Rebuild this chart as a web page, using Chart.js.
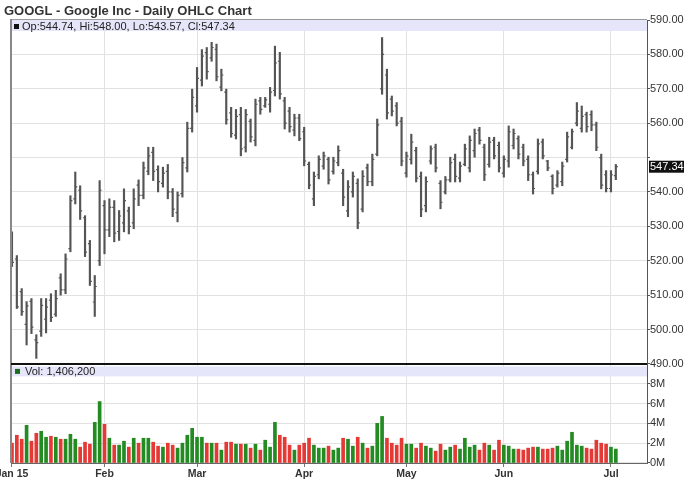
<!DOCTYPE html>
<html lang="en">
<head>
  <meta charset="UTF-8">
  <title>GOOGL - Daily OHLC Chart</title>
  <script src="https://cdn.jsdelivr.net/npm/chart.js"></script>
  <style>
    html, body { margin: 0; padding: 0; background: #ffffff; }
    #ohlcChart { display: block; }
  </style>
</head>
<body>
<canvas id="ohlcChart" width="688" height="503"></canvas>

<script>
  // trading days, Jan 5 - Jul 2 2015
  const tradingDays = {
    Jan: [5, 6, 7, 8, 9, 12, 13, 14, 15, 16, 20, 21, 22, 23, 26, 27, 28, 29, 30],
    Feb: [2, 3, 4, 5, 6, 9, 10, 11, 12, 13, 17, 18, 19, 20, 23, 24, 25, 26, 27],
    Mar: [2, 3, 4, 5, 6, 9, 10, 11, 12, 13, 16, 17, 18, 19, 20, 23, 24, 25, 26, 27, 30, 31],
    Apr: [1, 2, 6, 7, 8, 9, 10, 13, 14, 15, 16, 17, 20, 21, 22, 23, 24, 27, 28, 29, 30],
    May: [1, 4, 5, 6, 7, 8, 11, 12, 13, 14, 15, 18, 19, 20, 21, 22, 26, 27, 28, 29],
    Jun: [1, 2, 3, 4, 5, 8, 9, 10, 11, 12, 15, 16, 17, 18, 19, 22, 23, 24, 25, 26, 29, 30],
    Jul: [1, 2]
  };
  const monthLabels = ['Jan 15', 'Feb', 'Mar', 'Apr', 'May', 'Jun', 'Jul'];

  const openPrices = [
    527.2, 520.5, 511.0, 501.5, 508.2, 497.0, 499.5, 503.0, 508.5, 504.5,
    515.0, 511.5, 523.5, 538.0, 540.5, 532.5, 525.0, 508.0, 520.0, 536.0,
    529.0, 535.5, 528.5, 531.0, 534.5, 531.0, 542.0, 539.0, 546.0, 551.5,
    546.5, 542.5, 546.0, 540.0, 534.0, 539.5, 547.0, 558.5, 565.0, 572.5,
    580.5, 579.0, 581.5, 570.5, 569.0, 563.0, 556.5, 562.5, 553.0, 560.5,
    555.0, 566.5, 565.0, 565.5, 569.5, 578.0, 566.5, 563.5, 558.0, 561.5,
    557.5, 548.0, 538.0, 545.0, 547.5, 549.5, 546.0, 548.5, 545.5, 534.5,
    540.0, 542.5, 535.0, 547.0, 543.0, 551.0, 570.0, 574.0, 567.0, 565.0,
    560.5, 545.5, 549.5, 552.0, 544.5, 536.0, 549.0, 553.0, 542.5, 540.0,
    543.5, 549.5, 544.0, 548.0, 547.0, 552.0, 558.0, 553.0, 548.0, 555.0,
    553.5, 545.5, 549.0, 553.5, 555.5, 553.0, 549.5, 545.0, 546.0, 554.5,
    549.0, 544.5, 542.0, 543.0, 549.5, 553.0, 560.0, 558.5, 562.5, 562.5,
    559.5, 550.0, 545.0, 541.0, 544.74
  ];
  const highPrices = [
    528.4, 521.5, 511.9, 508.1, 509.0, 498.5, 509.0, 509.0, 510.4, 511.4,
    516.2, 522.0, 538.9, 545.8, 541.8, 533.1, 525.9, 515.7, 543.3, 537.5,
    538.0, 537.5, 534.6, 540.9, 535.6, 540.9, 543.5, 548.7, 553.0, 553.0,
    547.6, 547.2, 548.0, 541.0, 540.0, 550.0, 560.3, 569.9, 576.2, 581.4,
    582.0, 583.5, 583.0, 575.7, 569.9, 564.6, 564.0, 564.6, 564.0, 561.2,
    567.0, 567.5, 567.5, 570.4, 582.4, 580.6, 567.5, 564.6, 562.6, 562.6,
    558.8, 548.7, 545.8, 550.5, 551.6, 550.1, 550.1, 553.4, 546.6, 543.3,
    545.8, 543.8, 546.2, 548.1, 551.0, 561.2, 584.9, 575.7, 567.9, 566.0,
    561.7, 551.6, 556.8, 553.0, 545.8, 544.4, 553.4, 553.9, 543.3, 544.5,
    550.1, 551.0, 548.7, 553.9, 556.3, 558.3, 558.8, 553.9, 555.9, 555.9,
    554.5, 550.5, 559.2, 558.3, 556.3, 553.9, 550.5, 545.8, 555.4, 555.4,
    549.2, 545.0, 546.2, 548.7, 557.4, 558.3, 566.0, 565.0, 563.2, 563.6,
    560.3, 551.0, 546.2, 546.2, 548.00
  ];
  const lowPrices = [
    518.3, 506.1, 504.1, 495.5, 498.8, 491.6, 498.0, 499.0, 502.3, 503.8,
    510.0, 510.4, 522.6, 536.5, 532.0, 521.2, 512.8, 503.8, 518.6, 522.0,
    527.0, 525.5, 525.9, 528.4, 527.8, 529.3, 536.0, 538.0, 545.0, 543.3,
    540.0, 541.4, 538.0, 532.8, 531.3, 538.5, 545.8, 557.4, 563.2, 570.8,
    572.8, 578.0, 572.3, 569.4, 559.7, 555.9, 555.4, 550.5, 551.6, 554.5,
    553.4, 562.6, 564.6, 563.2, 567.9, 567.0, 558.3, 557.4, 556.3, 554.9,
    547.6, 540.9, 536.0, 543.8, 546.6, 542.3, 545.2, 547.6, 536.0, 532.8,
    538.5, 529.3, 534.2, 541.8, 541.8, 550.5, 568.4, 561.2, 562.1, 559.2,
    547.6, 544.3, 548.1, 542.9, 532.8, 534.2, 548.1, 545.8, 535.1, 539.4,
    542.9, 542.9, 542.9, 547.6, 545.8, 550.1, 553.9, 543.3, 547.2, 549.6,
    545.8, 544.3, 547.2, 552.5, 549.6, 547.6, 543.3, 539.4, 545.2, 549.6,
    546.2, 539.4, 541.4, 541.8, 548.7, 552.5, 559.2, 557.4, 557.4, 557.8,
    552.0, 540.9, 540.0, 540.0, 543.57
  ];
  const closePrices = [
    519.5, 506.6, 505.2, 506.9, 500.7, 496.2, 507.0, 506.5, 503.5, 509.0,
    511.5, 520.5, 537.5, 541.5, 534.5, 522.5, 514.0, 512.5, 540.5, 529.0,
    535.5, 528.0, 533.0, 537.5, 530.0, 538.0, 539.0, 547.0, 550.5, 546.0,
    543.0, 545.5, 540.0, 535.0, 539.0, 548.5, 558.5, 567.5, 573.0, 579.5,
    575.0, 582.0, 573.5, 574.0, 561.0, 557.0, 562.0, 552.5, 562.5, 556.0,
    565.5, 564.0, 566.8, 569.0, 577.5, 568.5, 560.0, 559.0, 561.5, 555.5,
    549.0, 542.0, 544.5, 549.5, 550.5, 543.5, 549.0, 552.0, 538.5, 541.5,
    544.5, 531.0, 544.5, 543.0, 549.5, 559.5, 580.0, 563.0, 563.5, 560.0,
    549.0, 550.5, 554.5, 544.0, 535.0, 543.0, 552.5, 547.0, 537.0, 543.5,
    548.5, 544.5, 547.5, 552.5, 555.0, 557.0, 555.0, 545.0, 554.5, 550.5,
    547.0, 549.5, 557.5, 557.0, 551.0, 549.0, 545.0, 541.0, 554.0, 550.5,
    547.0, 541.0, 545.5, 547.5, 556.0, 557.5, 563.5, 562.0, 559.0, 559.5,
    553.0, 542.0, 541.0, 545.0, 547.34
  ];
  // volume in millions of shares
  const volumeM = [
    2.0, 2.8, 2.4, 3.8, 2.2, 3.0, 3.2, 2.6, 2.7, 2.6,
    2.4, 2.4, 2.9, 2.4, 1.6, 2.1, 1.9, 4.1, 6.2, 3.9,
    2.5, 1.8, 1.8, 2.2, 1.6, 2.5, 2.0, 2.5, 2.5, 2.1,
    1.7, 1.6, 2.0, 1.8, 1.5, 2.0, 2.8, 3.5, 2.6, 2.6,
    2.0, 2.0, 2.0, 1.3, 2.1, 2.1, 1.9, 1.9, 1.9, 1.5,
    1.9, 1.3, 2.3, 1.6, 4.1, 2.8, 2.6, 1.8, 1.3, 1.8,
    2.0, 2.5, 1.8, 1.5, 1.5, 1.7, 1.3, 1.5, 2.5, 2.4,
    1.7, 2.6, 2.0, 1.5, 1.7, 4.0, 4.7, 2.5, 2.0, 1.8,
    2.5, 1.9, 1.9, 1.5, 2.0, 1.7, 1.5, 1.2, 1.9, 1.3,
    1.6, 1.8, 1.4, 2.5, 1.6, 1.8, 1.3, 2.0, 1.8, 1.3,
    2.3, 1.8, 1.7, 1.4, 1.4, 1.3, 1.5, 1.6, 1.6, 1.4,
    1.4, 1.5, 1.7, 1.3, 2.2, 3.1, 1.8, 1.7, 1.5, 1.4,
    2.3, 2.0, 1.9, 1.6, 1.4062
  ];

  // first trading day of each month -> tick position
  const monthStarts = [];
  let dayCount = 0;
  Object.values(tradingDays).forEach(days => {
    monthStarts.push(dayCount);
    dayCount += days.length;
  });
  const labelAt = {};
  monthStarts.forEach((v, i) => { labelAt[v] = monthLabels[i]; });

  const last = closePrices.length - 1;
  const UP = '#228b22', DOWN = '#e53935', BAR = '#555555', BAND = '#e6e6fa';
  const FONT = "'Liberation Sans', Arial, sans-serif";
  Chart.defaults.font.family = FONT;

  // open tick to the left, close tick to the right
  const ohlcTicks = {
    id: 'ohlcTicks',
    afterDatasetsDraw(chart) {
      const ctx = chart.ctx;
      const y = chart.scales.y;
      const meta = chart.getDatasetMeta(0);
      ctx.save();
      ctx.strokeStyle = BAR;
      ctx.lineWidth = 1.2;
      ctx.beginPath();
      meta.data.forEach((bar, i) => {
        const yo = y.getPixelForValue(openPrices[i]);
        const yc = y.getPixelForValue(closePrices[i]);
        ctx.moveTo(bar.x - 2, yo); ctx.lineTo(bar.x, yo);
        ctx.moveTo(bar.x, yc); ctx.lineTo(bar.x + 2, yc);
      });
      ctx.stroke();
      ctx.restore();
    }
  };

  // pane bands, borders, legend lines, title, last price tag
  const panes = {
    id: 'panes',
    beforeDatasetsDraw(chart) {
      const { ctx, chartArea: a, scales: { y, vol } } = chart;
      ctx.save();
      ctx.fillStyle = BAND;
      ctx.fillRect(a.left, y.top - 1, a.right - a.left, 12);
      ctx.fillRect(a.left, vol.top + 2.5, a.right - a.left, 10);
      ctx.restore();
    },
    afterDraw(chart) {
      const { ctx, chartArea: a, scales: { y, vol } } = chart;
      ctx.save();
      // borders
      ctx.strokeStyle = '#999';
      ctx.lineWidth = 1;
      ctx.beginPath();
      ctx.moveTo(a.left, y.top - 0.5); ctx.lineTo(a.right, y.top - 0.5);
      ctx.stroke();
      ctx.strokeStyle = '#888';
      ctx.lineWidth = 2;
      ctx.beginPath();
      ctx.moveTo(a.left, y.top - 1); ctx.lineTo(a.left, a.bottom);
      ctx.stroke();
      ctx.strokeStyle = '#111';
      ctx.lineWidth = 2;
      ctx.beginPath();
      ctx.moveTo(a.left, y.bottom); ctx.lineTo(a.right, y.bottom);
      ctx.stroke();

      // legends
      ctx.font = '11px ' + FONT;
      ctx.textBaseline = 'alphabetic';
      ctx.fillStyle = '#111';
      ctx.fillRect(14, y.top + 4, 5, 5);
      ctx.fillStyle = '#222';
      ctx.fillText('Op:' + openPrices[last].toFixed(2) + ', Hi:' + highPrices[last].toFixed(2) +
        ', Lo:' + lowPrices[last].toFixed(2) + ', Cl:' + closePrices[last].toFixed(2), 22, y.top + 9.5);
      ctx.fillStyle = '#1a6e1a';
      ctx.fillRect(15, vol.top + 5, 5, 5);
      ctx.fillStyle = '#222';
      ctx.fillText('Vol: ' + Math.round(volumeM[last] * 1e6).toLocaleString('en-US'), 25, vol.top + 11);

      // title
      ctx.font = 'bold 13px ' + FONT;
      ctx.fillStyle = '#333';
      ctx.fillText('GOOGL - Google Inc - Daily OHLC Chart', 4, 15);

      // last price tag
      const py = y.getPixelForValue(closePrices[last]);
      ctx.fillStyle = '#111';
      ctx.fillRect(a.right + 2, py - 6, 35, 12);
      ctx.fillStyle = '#fff';
      ctx.font = '11px ' + FONT;
      ctx.textBaseline = 'middle';
      ctx.fillText(closePrices[last].toFixed(2), a.right + 3, py + 0.5);
      ctx.restore();
    }
  };

  const idx = closePrices.map((_, i) => i);

  new Chart(document.getElementById('ohlcChart'), {
    type: 'bar',
    data: {
      datasets: [{
        label: 'GOOGL',
        data: idx.map(i => ({ x: i, y: [lowPrices[i], highPrices[i]] })),
        xAxisID: 'x',
        yAxisID: 'y',
        backgroundColor: BAR,
        barThickness: 1.5,
        grouped: false
      }, {
        label: 'Volume',
        data: idx.map(i => ({ x: i, y: volumeM[i] })),
        xAxisID: 'x',
        yAxisID: 'vol',
        backgroundColor: ctx => closePrices[ctx.dataIndex] >= openPrices[ctx.dataIndex] ? UP : DOWN,
        barThickness: 3,
        grouped: false
      }]
    },
    options: {
      responsive: false,
      animation: false,
      devicePixelRatio: 1,
      layout: { padding: { left: 11, top: 20, right: 0, bottom: 0 } },
      plugins: {
        legend: { display: false },
        tooltip: { enabled: false }
      },
      scales: {
        x: {
          type: 'linear',
          offset: false,
          min: -0.2,
          max: 130.4,
          afterBuildTicks: s => { s.ticks = monthStarts.map(v => ({ value: v })); },
          afterFit: s => { s.height = 40; s.paddingLeft = 0; s.paddingRight = 0; },
          ticks: {
            autoSkip: false,
            maxRotation: 0,
            padding: 1,
            color: '#333',
            font: { size: 10.5, weight: 'bold' },
            callback: v => labelAt[v]
          },
          grid: { offset: false, color: '#e2e2e2', tickLength: 4, tickColor: '#777' },
          border: { color: '#666' }
        },
        y: {
          type: 'linear',
          position: 'right',
          stack: 'panes',
          stackWeight: 3.47,
          min: 490,
          max: 590,
          afterFit: s => { s.width = 41; },
          ticks: {
            stepSize: 10,
            autoSkip: false,
            padding: 0,
            color: '#333',
            font: { size: 11 },
            // the last price tag hides the label it sits on
            callback: v => (Math.abs(v - closePrices[last]) < 4 ? '' : v.toFixed(2))
          },
          grid: { color: '#e2e2e2', tickLength: 3, tickColor: '#555' },
          border: { color: '#555' }
        },
        vol: {
          type: 'linear',
          position: 'right',
          stack: 'panes',
          stackWeight: 1,
          min: 0,
          max: 10,
          afterFit: s => { s.width = 41; },
          ticks: {
            stepSize: 2,
            autoSkip: false,
            padding: 0,
            color: '#333',
            font: { size: 11 },
            callback: v => (v >= 10 ? '' : v + 'M')
          },
          grid: { color: '#e2e2e2', tickLength: 3, tickColor: '#555' },
          border: { color: '#555' }
        }
      }
    },
    plugins: [panes, ohlcTicks]
  });
</script>

</body>
</html>
